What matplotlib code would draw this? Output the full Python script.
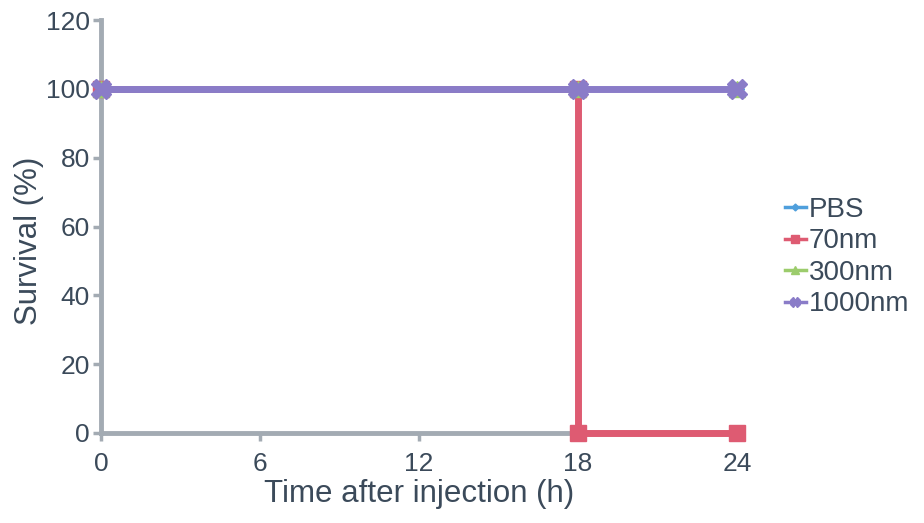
import matplotlib
matplotlib.use("Agg")
import matplotlib.pyplot as plt

plt.rcParams['font.family'] = ['Liberation Sans', 'DejaVu Sans']

series = ["PBS", "70nm", "300nm", "1000nm"]
t_pbs = [0, 18, 24]; s_pbs = [100, 100, 100]
t_70 = [0, 18, 18, 24]; s_70 = [100, 100, 0, 0]
t_300 = [0, 18, 24]; s_300 = [100, 100, 100]
t_1000 = [0, 18, 24]; s_1000 = [100, 100, 100]
xticks = [0, 6, 12, 18, 24]
yticks = [0, 20, 40, 60, 80, 100, 120]

colors = {"PBS": "#4f9fdc", "70nm": "#de5b72", "300nm": "#9ccc6c", "1000nm": "#8a7cc8"}
txt = "#3b4a5a"
axc = "#a3abb3"

fig = plt.figure(figsize=(9.24, 5.23), dpi=100)
ax = fig.add_axes([101/924, 1-433/523, (737-101)/924, (433-20)/523])

ax.plot(t_pbs, s_pbs, color=colors["PBS"], lw=3, marker="D", ms=7, label="PBS", clip_on=False, zorder=3)
ax.plot(t_70, s_70, color=colors["70nm"], lw=5, marker="s", ms=12, label="70nm", clip_on=False, zorder=4)
ax.plot(t_300, s_300, color=colors["300nm"], lw=3, marker="^", ms=11, label="300nm", clip_on=False, zorder=5)
ax.plot(t_1000, s_1000, color=colors["1000nm"], lw=5, marker="X", ms=14, label="1000nm", clip_on=False, zorder=6)

ax.set_xlim(0, 24)
ax.set_ylim(0, 120)
ax.set_xticks(xticks)
ax.set_yticks(yticks)
for s in ["top", "right"]:
    ax.spines[s].set_visible(False)
for s in ["left", "bottom"]:
    ax.spines[s].set_color(axc)
    ax.spines[s].set_linewidth(3.5)
    ax.spines[s].set_zorder(1)
ax.tick_params(colors=axc, labelcolor=txt, labelsize=19, width=2.5, length=6, pad=2)
ax.tick_params(axis="x", pad=8)
ax.set_xlabel("Time after injection (h)", fontsize=22.5, color=txt)
ax.set_ylabel("Survival (%)", fontsize=22.5, color=txt)
ax.xaxis.set_label_coords(0.5, -(479 - 433) / 413)
ax.yaxis.set_label_coords((44 - 101) / 636, (433 - 241) / 413)

leg = ax.legend(loc="center left", bbox_to_anchor=(1.075, (433 - 257) / 413), frameon=False,
                fontsize=20, handlelength=0.75, handletextpad=0.12, labelspacing=0.2,
                markerscale=0.5, labelcolor=txt, borderaxespad=0, borderpad=0)
for h in leg.get_lines():
    h.set_linewidth(2.5)
fig.savefig("out.png", dpi=100)
